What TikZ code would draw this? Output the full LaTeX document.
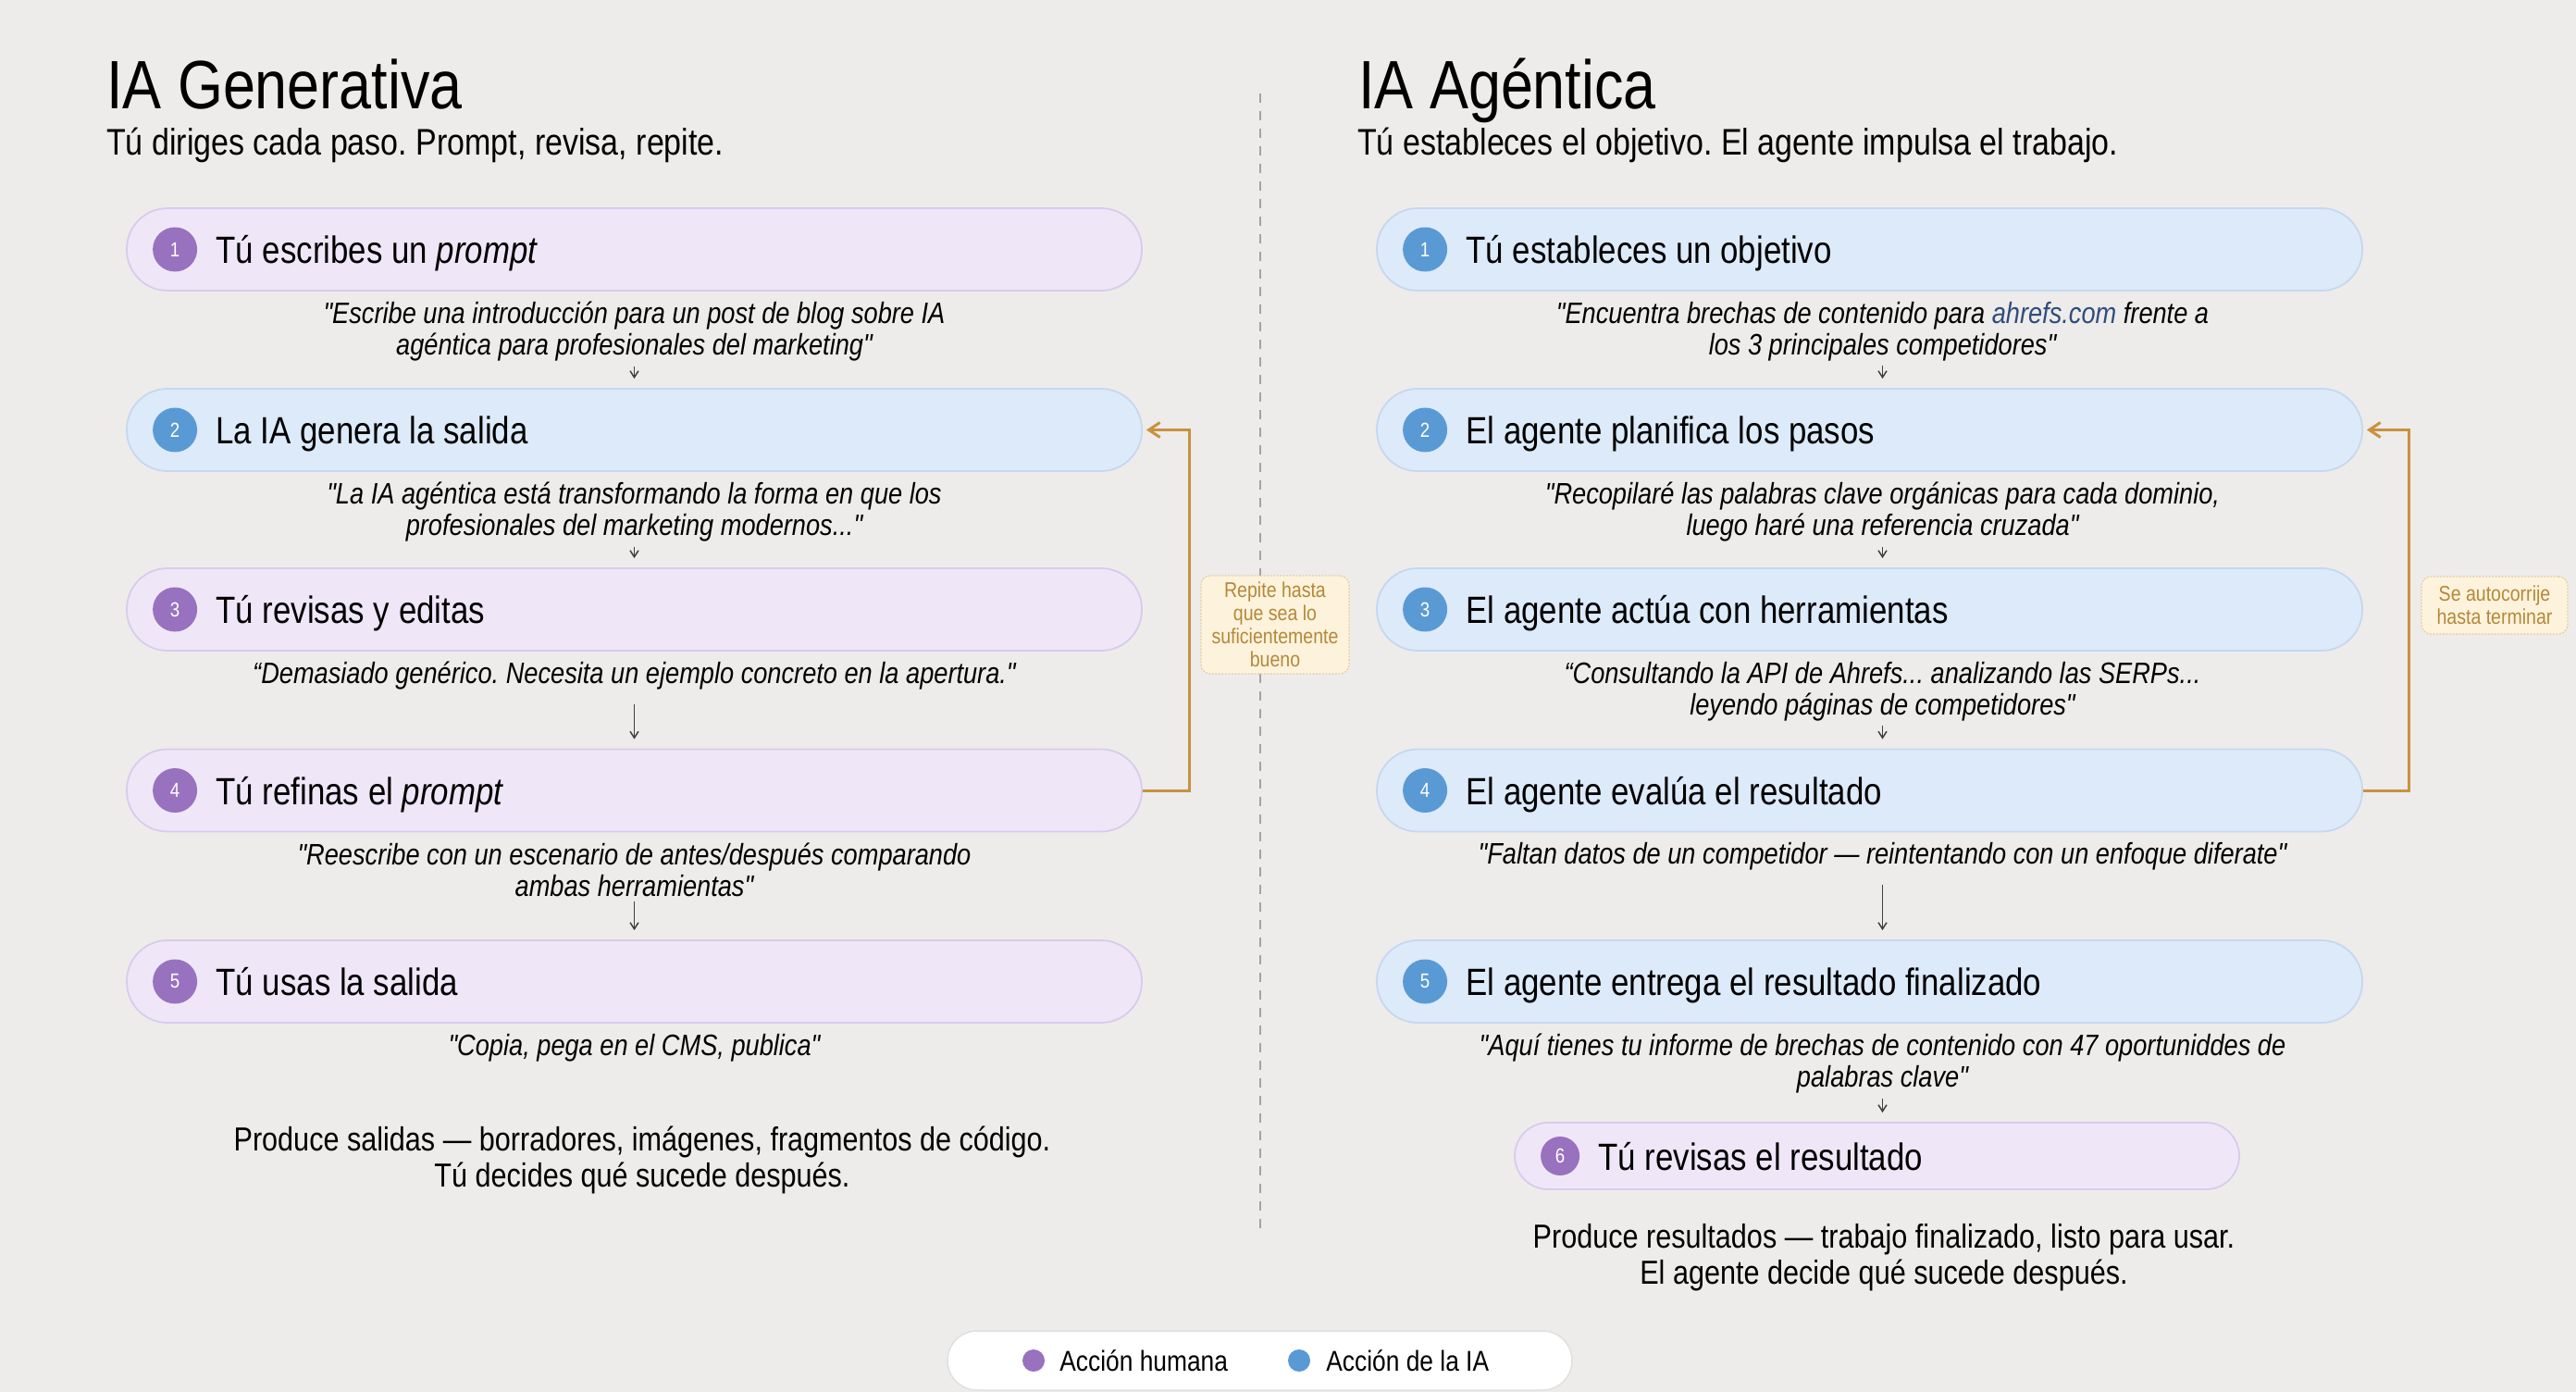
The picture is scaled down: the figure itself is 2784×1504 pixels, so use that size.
\documentclass[tikz,border=0pt]{standalone}
\usepackage{fontspec}
\setmainfont{Liberation Sans}[FakeStretch=0.85, Ligatures=TeXOff]
\usetikzlibrary{positioning,arrows.meta}
\definecolor{pagebg}{HTML}{EDECEA}
\definecolor{humfill}{HTML}{EFE6F8}
\definecolor{humline}{HTML}{D8CCEC}
\definecolor{humdot}{HTML}{9872BF}
\definecolor{aifill}{HTML}{DDEAF9}
\definecolor{ailine}{HTML}{C6D8EF}
\definecolor{aidot}{HTML}{5A9AD4}
\definecolor{loopline}{HTML}{C9913F}
\definecolor{notefill}{HTML}{FDF3DC}
\definecolor{noteline}{HTML}{E3CFA3}
\definecolor{notetext}{HTML}{B4883A}
\definecolor{linkblue}{HTML}{2F4C7C}
\definecolor{divgray}{HTML}{A3A3A3}
\colorlet{arrowgray}{black!75}
\newcommand{\fsz}[2]{\fontsize{#1}{#2}\selectfont}
\frenchspacing

\begin{document}
\begin{tikzpicture}[x=1pt, y=-1pt,
    pill/.style={draw, line width=1.8pt, rounded corners=44pt, minimum width=1097pt,
                 minimum height=89pt, inner sep=0pt},
    hpill/.style={pill, fill=humfill, draw=humline},
    apill/.style={pill, fill=aifill, draw=ailine, minimum width=1065pt},
    badge/.style={circle, minimum size=48pt, inner sep=0pt, text=white, font=\fsz{22}{24}},
    steptxt/.style={font=\fsz{41}{46}, inner sep=0pt, text height=36pt, text depth=6pt},
    quote/.style={font=\fsz{32}{34}\itshape, align=center, inner sep=0pt},
    foot/.style={font=\fsz{36}{39}, align=center, inner sep=0pt},
    nxt/.style={-{Straight Barb[length=7pt,width=9pt]}, line width=1.5pt, draw=arrowgray,
                shorten <=5pt, shorten >=10pt},
    back/.style={-{Straight Barb[length=12pt,width=16pt]}, line width=3pt, draw=loopline,
                 shorten >=4pt},
    note/.style={draw=noteline, fill=notefill, dash pattern=on 2pt off 1.5pt, line width=1.2pt,
                 rounded corners=10pt, text=notetext, font=\fsz{23}{25}, align=center, inner sep=7pt},
    divider/.style={divgray, line width=1.5pt, dash pattern=on 10pt off 9pt},
    ldot/.style={circle, minimum size=24pt, inner sep=0pt}]

  \useasboundingbox (0,0) rectangle (2784,1504);
  \fill[pagebg] (0,0) rectangle (2784,1504);

  % the dashed line between the two columns
  \draw[divider] (1362,101) -- (1362,1335);

  % ---- left column: IA Generativa
  \node[font=\fsz{74}{80}, inner sep=0pt, anchor=base west] (gtitle) at (115,117) {IA Generativa};
  \node[font=\fsz{40}{44}, inner sep=0pt, anchor=base west] (gsub) at (115,167)
    {Tú diriges cada paso. Prompt, revisa, repite.};

  \node[hpill] (g1) at (685.5,269.5) {};
  \node[badge, fill=humdot] (gb1) at ([xshift=53pt]g1.west) {1};
  \node[steptxt, right=20pt of gb1] (gt1) {Tú escribes un \textit{prompt}};
  \node[quote, below=11pt of g1] (gq1)
    {"Escribe una introducción para un post de blog sobre IA\\agéntica para profesionales del marketing"};

  \node[pill, fill=aifill, draw=ailine] (g2) at (685.5,464.5) {};
  \node[badge, fill=aidot] (gb2) at ([xshift=53pt]g2.west) {2};
  \node[steptxt, right=20pt of gb2] (gt2) {La IA genera la salida};
  \node[quote, below=11pt of g2] (gq2)
    {"La IA agéntica está transformando la forma en que los\\profesionales del marketing modernos..."};

  \node[hpill] (g3) at (685.5,658.5) {};
  \node[badge, fill=humdot] (gb3) at ([xshift=53pt]g3.west) {3};
  \node[steptxt, right=20pt of gb3] (gt3) {Tú revisas y editas};
  \node[quote, below=11pt of g3] (gq3)
    {“Demasiado genérico. Necesita un ejemplo concreto en la apertura."};

  \node[hpill] (g4) at (685.5,854) {};
  \node[badge, fill=humdot] (gb4) at ([xshift=53pt]g4.west) {4};
  \node[steptxt, right=20pt of gb4] (gt4) {Tú refinas el \textit{prompt}};
  \node[quote, below=11pt of g4] (gq4)
    {"Reescribe con un escenario de antes/después comparando\\ambas herramientas"};

  \node[hpill] (g5) at (685.5,1060.5) {};
  \node[badge, fill=humdot] (gb5) at ([xshift=53pt]g5.west) {5};
  \node[steptxt, right=20pt of gb5] (gt5) {Tú usas la salida};
  \node[quote, below=11pt of g5] (gq5) {"Copia, pega en el CMS, publica"};

  \node[foot] (gfoot) at (694,1253.5)
    {Produce salidas — borradores, imágenes, fragmentos de código.\\Tú decides qué sucede después.};

  \draw[nxt] (gq1.south) -- (gq1.south |- g2.north);
  \draw[nxt] (gq2.south) -- (gq2.south |- g3.north);
  \draw[nxt, shorten <=15pt] (gq3.south) -- (gq3.south |- g4.north);
  \draw[nxt] (gq4.south) -- (gq4.south |- g5.north);

  % loop back from step 4 to step 2
  \draw[back] (g4.east) -- ++(51pt,0pt) |- (g2.east);
  \node[note, minimum width=160pt] (gnote) at (1378,675)
    {Repite hasta\\que sea lo\\suficientemente\\bueno};

  % ---- right column: IA Agéntica
  \node[font=\fsz{74}{80}, inner sep=0pt, anchor=base west] (atitle) at (1468,117) {IA Agéntica};
  \node[font=\fsz{40}{44}, inner sep=0pt, anchor=base west] (asub) at (1467,167)
    {Tú estableces el objetivo. El agente impulsa el trabajo.};

  \node[apill] (a1) at (2020.5,269.5) {};
  \node[badge, fill=aidot] (ab1) at ([xshift=53pt]a1.west) {1};
  \node[steptxt, right=20pt of ab1] (at1) {Tú estableces un objetivo};
  \node[quote, below=11pt of a1, xshift=14pt] (aq1)
    {"Encuentra brechas de contenido para {\color{linkblue}ahrefs.com} frente a\\los 3 principales competidores"};

  \node[apill] (a2) at (2020.5,464.5) {};
  \node[badge, fill=aidot] (ab2) at ([xshift=53pt]a2.west) {2};
  \node[steptxt, right=20pt of ab2] (at2) {El agente planifica los pasos};
  \node[quote, below=11pt of a2, xshift=14pt] (aq2)
    {"Recopilaré las palabras clave orgánicas para cada dominio,\\luego haré una referencia cruzada"};

  \node[apill] (a3) at (2020.5,658.5) {};
  \node[badge, fill=aidot] (ab3) at ([xshift=53pt]a3.west) {3};
  \node[steptxt, right=20pt of ab3] (at3) {El agente actúa con herramientas};
  \node[quote, below=11pt of a3, xshift=14pt] (aq3)
    {“Consultando la API de Ahrefs... analizando las SERPs...\\leyendo páginas de competidores"};

  \node[apill] (a4) at (2020.5,854) {};
  \node[badge, fill=aidot] (ab4) at ([xshift=53pt]a4.west) {4};
  \node[steptxt, right=20pt of ab4] (at4) {El agente evalúa el resultado};
  \node[quote, below=11pt of a4, xshift=14pt] (aq4)
    {"Faltan datos de un competidor — reintentando con un enfoque diferate"};

  \node[apill] (a5) at (2020.5,1060.5) {};
  \node[badge, fill=aidot] (ab5) at ([xshift=53pt]a5.west) {5};
  \node[steptxt, right=20pt of ab5] (at5) {El agente entrega el resultado finalizado};
  \node[quote, below=11pt of a5, xshift=14pt] (aq5)
    {"Aquí tienes tu informe de brechas de contenido con 47 oportuniddes de\\palabras clave"};

  \node[hpill, minimum width=783pt, minimum height=72pt, rounded corners=36pt] (a6) at (2028.5,1249) {};
  \node[badge, fill=humdot, minimum size=42pt] (ab6) at ([xshift=50pt]a6.west) {6};
  \node[steptxt, right=20pt of ab6] (at6) {Tú revisas el resultado};

  \node[foot] (afoot) at (2036,1358.5)
    {Produce resultados — trabajo finalizado, listo para usar.\\El agente decide qué sucede después.};

  \draw[nxt] (aq1.south) -- (aq1.south |- a2.north);
  \draw[nxt] (aq2.south) -- (aq2.south |- a3.north);
  \draw[nxt] (aq3.south) -- (aq3.south |- a4.north);
  \draw[nxt, shorten <=15pt] (aq4.south) -- (aq4.south |- a5.north);
  \draw[nxt] (aq5.south) -- (aq5.south |- a6.north);

  % loop back from step 4 to step 2
  \draw[back] (a4.east) -- ++(50pt,0pt) |- (a2.east);
  \node[note, minimum width=158pt, inner ysep=10pt] (anote) at (2696,654)
    {Se autocorrije\\hasta terminar};

  % ---- legend
  \node[draw=black!12, fill=white, line width=1.5pt, rounded corners=32pt,
        minimum width=675pt, minimum height=64pt] (legend) at (1361.5,1470) {};
  \node[ldot, fill=humdot] (lhum) at (1117,1470) {};
  \node[font=\fsz{31}{34}, inner sep=0pt, right=16pt of lhum] (lhumtxt) {Acción humana};
  \node[ldot, fill=aidot] (lai) at (1404,1470) {};
  \node[font=\fsz{31}{34}, inner sep=0pt, right=17pt of lai] (laitxt) {Acción de la IA};
\end{tikzpicture}
\end{document}
